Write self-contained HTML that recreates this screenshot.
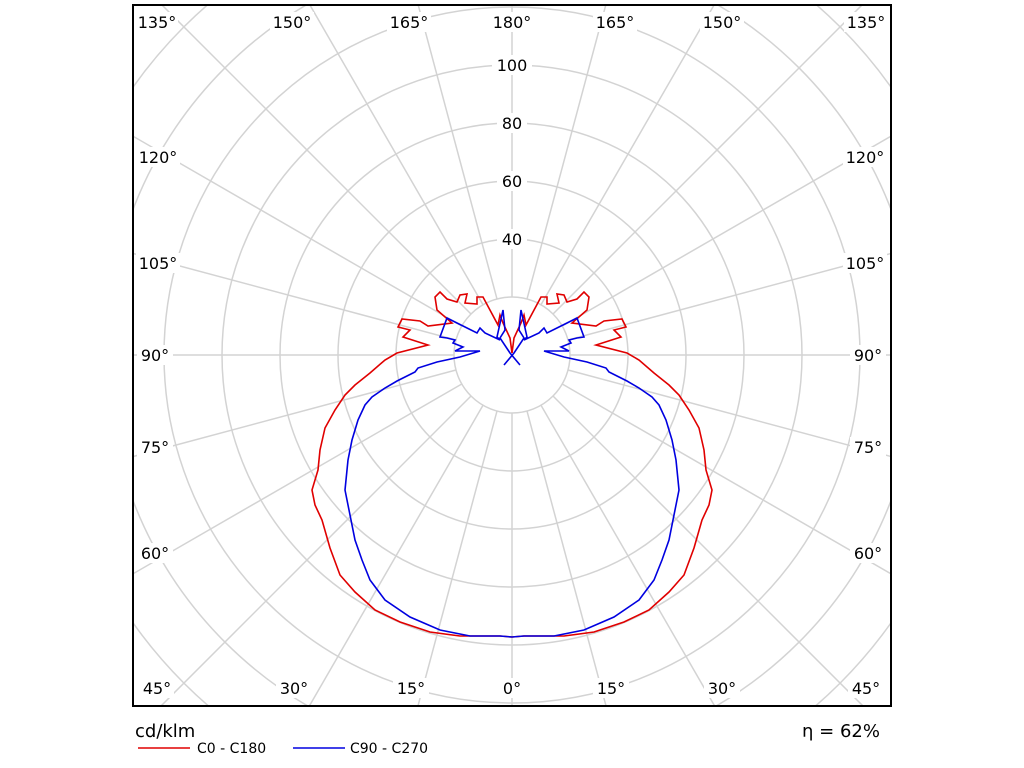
<!DOCTYPE html>
<html><head><meta charset="utf-8"><style>
html,body{margin:0;padding:0;background:#fff;width:1024px;height:768px;overflow:hidden;}
svg{display:block;font-family:"DejaVu Sans","Liberation Sans",sans-serif;}
</style></head><body>
<svg width="1024" height="768" viewBox="0 0 1024 768" xmlns="http://www.w3.org/2000/svg">
<defs><clipPath id="c"><rect x="133" y="5" width="758" height="701"/></clipPath></defs>
<rect width="1024" height="768" fill="#fff"/>
<g clip-path="url(#c)" stroke="#d3d3d3" stroke-width="1.5" fill="none">
<circle cx="512" cy="355" r="58"/><circle cx="512" cy="355" r="116"/><circle cx="512" cy="355" r="174"/>
<circle cx="512" cy="355" r="232"/><circle cx="512" cy="355" r="290"/><circle cx="512" cy="355" r="348"/>
<circle cx="512" cy="355" r="406"/><circle cx="512" cy="355" r="464"/><circle cx="512" cy="355" r="522"/>
<line x1="512" y1="413" x2="512" y2="1000"/>
<line x1="512" y1="413" x2="512" y2="1000" transform="rotate(15 512 355)"/>
<line x1="512" y1="413" x2="512" y2="1000" transform="rotate(30 512 355)"/>
<line x1="512" y1="413" x2="512" y2="1000" transform="rotate(45 512 355)"/>
<line x1="512" y1="413" x2="512" y2="1000" transform="rotate(60 512 355)"/>
<line x1="512" y1="413" x2="512" y2="1000" transform="rotate(75 512 355)"/>
<line x1="512" y1="413" x2="512" y2="1000" transform="rotate(90 512 355)"/>
<line x1="512" y1="413" x2="512" y2="1000" transform="rotate(105 512 355)"/>
<line x1="512" y1="413" x2="512" y2="1000" transform="rotate(120 512 355)"/>
<line x1="512" y1="413" x2="512" y2="1000" transform="rotate(135 512 355)"/>
<line x1="512" y1="413" x2="512" y2="1000" transform="rotate(150 512 355)"/>
<line x1="512" y1="413" x2="512" y2="1000" transform="rotate(165 512 355)"/>
<line x1="512" y1="413" x2="512" y2="1000" transform="rotate(180 512 355)"/>
<line x1="512" y1="413" x2="512" y2="1000" transform="rotate(-15 512 355)"/>
<line x1="512" y1="413" x2="512" y2="1000" transform="rotate(-30 512 355)"/>
<line x1="512" y1="413" x2="512" y2="1000" transform="rotate(-45 512 355)"/>
<line x1="512" y1="413" x2="512" y2="1000" transform="rotate(-60 512 355)"/>
<line x1="512" y1="413" x2="512" y2="1000" transform="rotate(-75 512 355)"/>
<line x1="512" y1="413" x2="512" y2="1000" transform="rotate(-90 512 355)"/>
<line x1="512" y1="413" x2="512" y2="1000" transform="rotate(-105 512 355)"/>
<line x1="512" y1="413" x2="512" y2="1000" transform="rotate(-120 512 355)"/>
<line x1="512" y1="413" x2="512" y2="1000" transform="rotate(-135 512 355)"/>
<line x1="512" y1="413" x2="512" y2="1000" transform="rotate(-150 512 355)"/>
<line x1="512" y1="413" x2="512" y2="1000" transform="rotate(-165 512 355)"/>
</g>
<g font-size="16" fill="#000" text-anchor="middle">
<rect x="492" y="55" width="40" height="20" fill="#fff"/><text x="512" y="71">100</text>
<rect x="497" y="113" width="30" height="20" fill="#fff"/><text x="512" y="129">80</text>
<rect x="497" y="171" width="30" height="20" fill="#fff"/><text x="512" y="187">60</text>
<rect x="497" y="229" width="30" height="20" fill="#fff"/><text x="512" y="245">40</text>
<g fill="#fff"><rect x="136" y="12" width="42" height="20"/><rect x="270" y="12" width="44" height="20"/><rect x="387" y="12" width="44" height="20"/><rect x="490" y="12" width="44" height="20"/><rect x="593" y="12" width="44" height="20"/><rect x="700" y="12" width="44" height="20"/><rect x="844" y="12" width="44" height="20"/>
<rect x="138" y="678" width="36" height="20"/><rect x="276" y="678" width="36" height="20"/><rect x="393" y="678" width="36" height="20"/><rect x="499" y="678" width="28" height="20"/><rect x="593" y="678" width="36" height="20"/><rect x="704" y="678" width="36" height="20"/><rect x="848" y="678" width="36" height="20"/>
<rect x="136" y="147" width="44" height="20"/><rect x="136" y="253" width="44" height="20"/><rect x="137" y="345" width="36" height="20"/><rect x="137" y="437" width="36" height="20"/><rect x="137" y="543" width="36" height="20"/>
<rect x="843" y="147" width="44" height="20"/><rect x="843" y="253" width="44" height="20"/><rect x="850" y="345" width="36" height="20"/><rect x="850" y="437" width="36" height="20"/><rect x="850" y="543" width="36" height="20"/></g>
<text x="157" y="28">135°</text><text x="292" y="28">150°</text><text x="409" y="28">165°</text><text x="512" y="28">180°</text><text x="615" y="28">165°</text><text x="722" y="28">150°</text><text x="866" y="28">135°</text>
<text x="157" y="694">45°</text><text x="294" y="694">30°</text><text x="411" y="694">15°</text><text x="512" y="694">0°</text><text x="611" y="694">15°</text><text x="722" y="694">30°</text><text x="866" y="694">45°</text>
<text x="158" y="163">120°</text><text x="158" y="269">105°</text><text x="155" y="361">90°</text><text x="155" y="453">75°</text><text x="155" y="559">60°</text>
<text x="865" y="163">120°</text><text x="865" y="269">105°</text><text x="868" y="361">90°</text><text x="868" y="453">75°</text><text x="868" y="559">60°</text>
</g>
<g fill="none" stroke-width="1.6" stroke-linejoin="miter">
<g id="red"><polyline stroke="#e00000" points="512,637 500,636 460,636 430,632 400,622 375,610 355,592 340,575 330,548 322,520 315,505 312,490 318,470 320,450 325,428 335,410 345,395 355,385 370,373 385,360 397,353 428,345 403,337 410,330 398,327 402,319 420,321 428,326 452,323 437,310 435,297 440,292 447,299 457,302 460,295 467,294 465,303 477,304 477,297 483,297 498,325 500,315 503,323 510,338 512,353"/></g>
<use href="#red" transform="translate(1024,0) scale(-1,1)"/>
<g id="blue"><polyline stroke="#0000e0" points="512,637 500,636 470,636 440,630 410,617 385,600 370,580 362,560 355,540 350,515 345,490 348,460 352,440 358,420 365,405 372,397 385,388 397,381 415,372 418,368 437,362 460,357 480,351 455,351 463,347 453,343 455,340 447,338 440,337 447,318 457,323 477,333 480,328 485,333 500,340 497,337 503,310 505,330 500,338 510,353 520,365"/></g>
<use href="#blue" transform="translate(1024,0) scale(-1,1)"/>
</g>
<rect x="133" y="5" width="758" height="701" fill="none" stroke="#000" stroke-width="2"/>
<text x="135" y="737" font-size="18">cd/klm</text>
<text x="880" y="737" font-size="18" text-anchor="end">η = 62%</text>
<line x1="138" y1="748" x2="190" y2="748" stroke="#e00000" stroke-width="1.5"/>
<text x="197" y="753" font-size="14">C0 - C180</text>
<line x1="293" y1="748" x2="345" y2="748" stroke="#0000e0" stroke-width="1.5"/>
<text x="350" y="753" font-size="14">C90 - C270</text>
</svg>
</body></html>
